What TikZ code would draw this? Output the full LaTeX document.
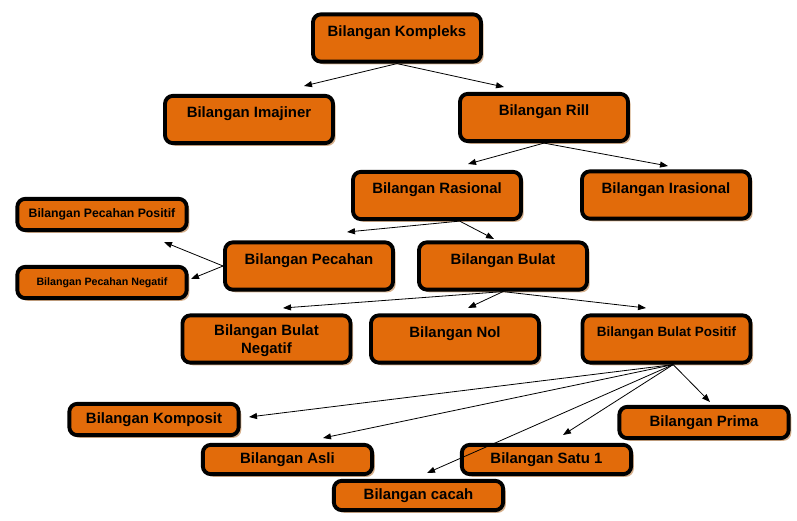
\documentclass[tikz,border=0pt]{standalone}
\usepackage{fontspec}
\setmainfont{Liberation Sans}
\usetikzlibrary{arrows.meta,shadows}
\definecolor{boxorange}{RGB}{226,107,10}
\definecolor{boxshadow}{RGB}{214,176,140}

\begin{document}
\begin{tikzpicture}[x=0.75pt, y=-0.75pt, >={Triangle[length=6pt,width=4.5pt]},
    box/.style={draw=black, line width=2.9pt, rounded corners=6pt, fill=boxorange,
      drop shadow={shadow xshift=2pt, shadow yshift=-2pt, fill=boxshadow, opacity=1},
      minimum width=126pt, inner sep=0pt, font=\fontsize{11.2}{13.5}\selectfont\bfseries},
    tall/.style={minimum height=35.5pt, text depth=10.5pt},
    flat/.style={minimum height=23.5pt, minimum width=127pt},
    low/.style={minimum height=22pt, minimum width=127pt},
    link/.style={->, line width=0.6pt}]
  \useasboundingbox (0,0) rectangle (797,521);

  % boxes
  \node[box,tall] (kompleks) at (397,38) {Bilangan Kompleks};
  \node[box,tall] (imajiner) at (249,119.5) {Bilangan Imajiner};
  \node[box,tall] (rill) at (544,117.5) {Bilangan Rill};
  \node[box,tall] (rasional) at (437,195.5) {Bilangan Rasional};
  \node[box,tall] (irasional) at (666,195) {Bilangan Irasional};
  \node[box,flat,font=\fontsize{9.2}{11}\selectfont\bfseries] (pecpos) at (102,214.5) {Bilangan Pecahan Positif};
  \node[box,flat,font=\fontsize{8}{10}\selectfont\bfseries] (pecneg) at (102,282.5) {Bilangan Pecahan Negatif};
  \node[box,tall] (pecahan) at (309,266) {Bilangan Pecahan};
  \node[box,tall] (bulat) at (503,266) {Bilangan Bulat};
  \node[box,minimum height=35.5pt,align=center] (bulneg) at (266.5,339) {\rule{0pt}{11pt}Bilangan Bulat\\Negatif};
  \node[box,tall] (nol) at (455,339) {Bilangan Nol};
  \node[box,tall,font=\fontsize{10.1}{12}\selectfont\bfseries] (bulpos) at (666.5,339) {Bilangan Bulat Positif};
  \node[box,flat] (komposit) at (154,419.5) {Bilangan Komposit};
  \node[box,flat] (prima) at (704,422.5) {Bilangan Prima};
  \node[box,low] (asli) at (287.5,459.5) {Bilangan Asli};
  \node[box,low] (satu) at (546.5,459.5) {Bilangan Satu 1};
  \node[box,low] (cacah) at (418.5,495.5) {Bilangan cacah};

  % arrow tips
  \coordinate (tImaj) at (304,86);
  \coordinate (tRill) at (504,87);
  \coordinate (tRas) at (468,164);
  \coordinate (tIras) at (668,166);
  \coordinate (tPec) at (347,232);
  \coordinate (tBul) at (494,239);
  \coordinate (tPpos) at (164,242);
  \coordinate (tPneg) at (191,279);
  \coordinate (tBneg) at (283,308);
  \coordinate (tNol) at (468,308);
  \coordinate (tBpos) at (646,308);
  \coordinate (tKomp) at (249,417);
  \coordinate (tAsli) at (323,438);
  \coordinate (tCacah) at (427,473);
  \coordinate (tSatu) at (563,435);
  \coordinate (tPrima) at (710,402);

  % connectors
  \foreach \t in {tImaj,tRill} \draw[link] (kompleks.south) -- (\t);
  \foreach \t in {tRas,tIras} \draw[link] (rill.south) -- (\t);
  \foreach \t in {tPec,tBul} \draw[link] ([xshift=17pt]rasional.south) -- (\t);
  \foreach \t in {tPpos,tPneg} \draw[link] (pecahan.west) -- (\t);
  \foreach \t in {tBneg,tNol,tBpos} \draw[link] (bulat.south) -- (\t);
  \foreach \t in {tKomp,tAsli,tCacah,tSatu,tPrima} \draw[link] ([xshift=5pt]bulpos.south) -- (\t);
\end{tikzpicture}
\end{document}
